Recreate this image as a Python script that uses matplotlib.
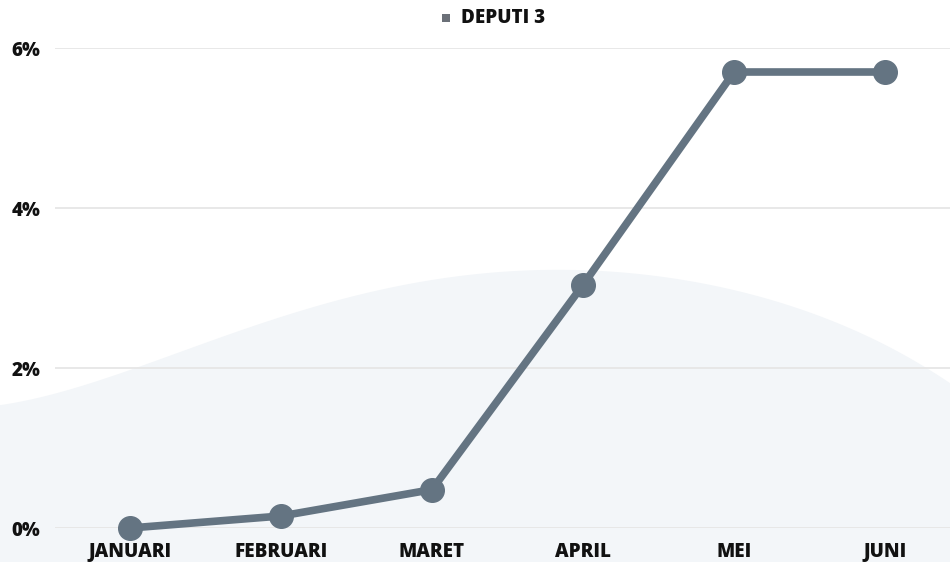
import matplotlib
matplotlib.use("Agg")
import matplotlib.pyplot as plt
import numpy as np
from matplotlib.patches import Polygon, Rectangle

months = ["JANUARI", "FEBRUARI", "MARET", "APRIL", "MEI", "JUNI"]
deputi3 = [0.0, 0.15, 0.48, 3.04, 5.7, 5.7]
yticks = [0, 2, 4, 6]
ytick_labels = ["0%", "2%", "4%", "6%"]
series_name = "DEPUTI 3"

W, H = 950, 562
fig = plt.figure(figsize=(W / 100, H / 100), dpi=100)
fig.patch.set_facecolor("white")

# background decorative arch (pixel coords, y from top)
bx = np.array([0, 140, 233, 333, 467, 542, 620, 708, 808, 908, 950])
by = np.array([405, 367, 333, 300, 277, 270, 272, 283, 313, 357, 383])
coef = np.polyfit(bx, by, 5)
xs = np.linspace(0, W, 200)
ys = np.polyval(coef, xs)
pts = [(x / W, 1 - y / H) for x, y in zip(xs, ys)] + [(1, 0), (0, 0)]
fig.add_artist(Polygon(pts, closed=True, transform=fig.transFigure,
                       facecolor="#f3f6f9", edgecolor="none", zorder=0))

ax = fig.add_axes([55 / W, (H - 528) / H, (W - 55) / W, 480 / H])
ax.set_facecolor("none")
x = np.arange(len(months))
ax.plot(x, deputi3, color="#647482", lw=5.5, marker="o", markersize=17,
        solid_capstyle="round", clip_on=False, zorder=3)

ax.set_xlim(-0.497, 5.43)
ax.set_ylim(0, 6)
ax.set_yticks(yticks)
ax.set_yticklabels(ytick_labels)
ax.set_xticks(x)
ax.set_xticklabels(months)
for s in ax.spines.values():
    s.set_visible(False)
ax.grid(axis="y", color="#e6e6e6", lw=1.3)
ax.set_axisbelow(True)
ax.tick_params(length=0)
ax.tick_params(axis="x", pad=10)
ax.tick_params(axis="y", pad=10.5)
for lab in ax.get_xticklabels() + ax.get_yticklabels():
    lab.set_fontfamily("Open Sans")
    lab.set_fontweight("heavy")
    lab.set_fontsize(13.5)
    lab.set_color("#111111")

# legend
fig.add_artist(Rectangle((442 / W, 1 - 22 / H), 8 / W, 8 / H,
                         transform=fig.transFigure, facecolor="#6b7078",
                         edgecolor="none"))
fig.text(461 / W, 1 - 18 / H, series_name, fontfamily="Open Sans",
         fontweight="heavy", fontsize=13.5, color="#111111", va="center", ha="left")

fig.savefig("out.png", dpi=100)
